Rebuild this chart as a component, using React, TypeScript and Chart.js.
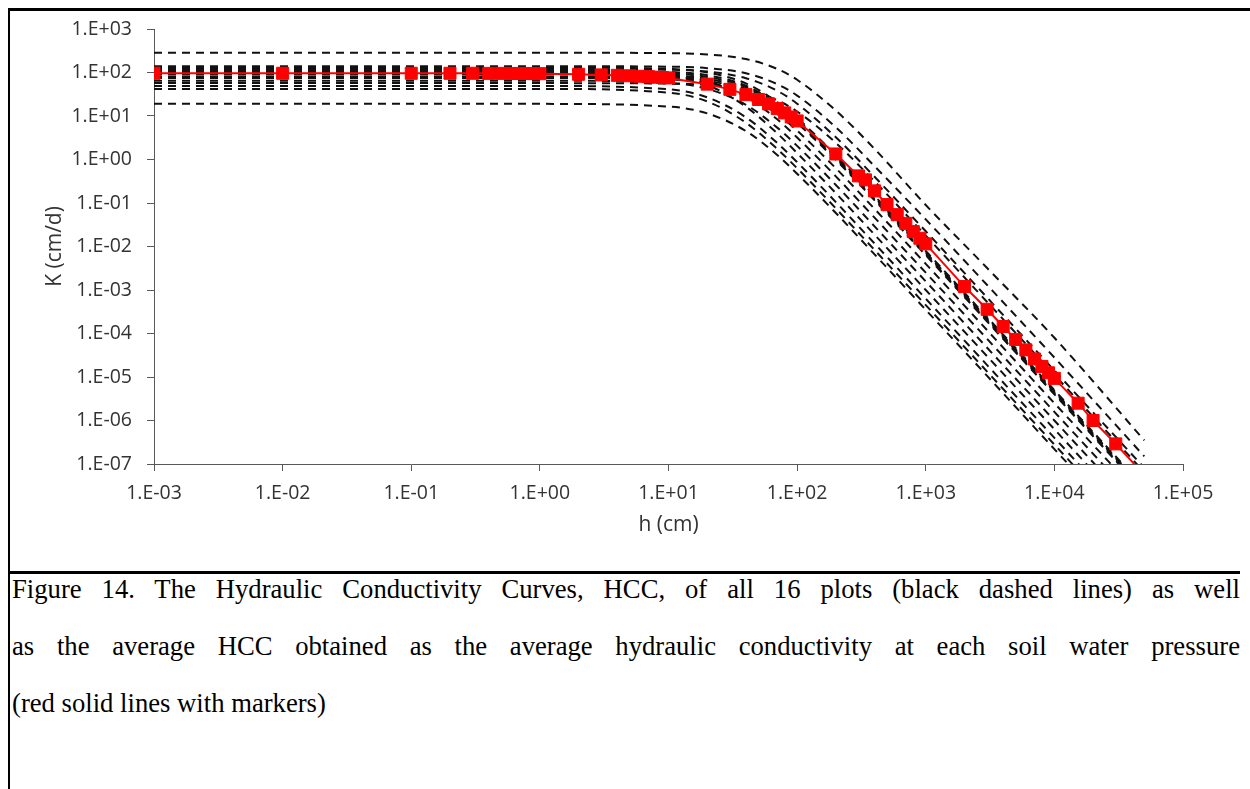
import React, { useEffect, useRef } from 'react';
import { Chart, registerables } from 'chart.js';

Chart.register(...registerables);

// Soil water pressure grid (cm) at which each plot's HCC is tabulated
const pressureGrid = [0.001, 1, 10, 20, 40, 70, 100, 200, 400, 1000, 3000, 10000, 50000];

// Hydraulic conductivity K (cm/d) of the 16 plots on pressureGrid
const plot01 = [285, 285, 279, 260, 204, 121, 68, 13.3, 1.75, 0.09, 3.2e-3, 8.0e-5, 3.5e-7];
const plot02 = [140, 140, 136, 126, 96, 54, 29.5, 5.5, 0.7, 0.042, 1.3e-3, 2.8e-5, 1.5e-7];
const plot03 = [120, 120, 116, 105, 74, 38, 19.2, 3.24, 0.4, 0.0224, 6.7e-4, 1.41e-5, 8.2e-8];
const plot04 = [57, 57, 55.6, 51.8, 40, 23, 12.7, 2.41, 0.313, 0.0178, 5.3e-4, 1.12e-5, 6.5e-8];
const plot05 = [130, 130, 121, 100, 56, 21, 9.0, 1.25, 0.146, 7.9e-3, 2.37e-4, 5.0e-6, 2.9e-8];
const plot06 = [110, 110, 103, 86.5, 49.5, 19.2, 8.3, 1.16, 0.136, 7.4e-3, 2.21e-4, 4.7e-6, 2.7e-8];
const plot07 = [100, 100, 94, 79, 46, 17.9, 7.8, 1.1, 0.129, 7.1e-3, 2.11e-4, 4.5e-6, 2.6e-8];
const plot08 = [90, 90, 84.7, 71.7, 41.9, 16.5, 7.2, 1.03, 0.121, 6.6e-3, 1.97e-4, 4.2e-6, 2.4e-8];
const plot09 = [80, 80, 75.6, 64.5, 38.7, 15.4, 6.8, 0.98, 0.115, 6.3e-3, 1.88e-4, 4.0e-6, 2.3e-8];
const plot10 = [75, 75, 69.5, 56.6, 30.5, 11.1, 4.6, 0.63, 0.073, 4.0e-3, 1.19e-4, 2.5e-6, 1.5e-8];
const plot11 = [95, 95, 84.7, 62.8, 27.6, 8.4, 3.2, 0.41, 0.046, 2.5e-3, 7.5e-5, 1.58e-6, 9.1e-9];
const plot12 = [65, 65, 57.6, 42.1, 18.1, 5.4, 2.06, 0.26, 0.029, 1.58e-3, 4.7e-5, 1.0e-6, 5.8e-9];
const plot13 = [105, 105, 85, 52, 16.3, 4.0, 1.41, 0.168, 0.0187, 1.0e-3, 3.0e-5, 6.3e-7, 3.6e-9];
const plot14 = [49, 49, 41.1, 26.8, 9.3, 2.4, 0.87, 0.105, 0.0117, 6.3e-4, 1.88e-5, 4.0e-7, 2.3e-9];
const plot15 = [42, 42, 34.4, 21.6, 7.0, 1.75, 0.63, 0.075, 8.3e-3, 4.5e-4, 1.33e-5, 2.8e-7, 1.6e-9];
const plot16 = [19, 19, 16.5, 11.5, 4.5, 1.27, 0.47, 0.059, 6.6e-3, 3.5e-4, 1.06e-5, 2.2e-7, 1.3e-9];

const plotCurves = [
  plot01, plot02, plot03, plot04, plot05, plot06, plot07, plot08,
  plot09, plot10, plot11, plot12, plot13, plot14, plot15, plot16,
];

// Average HCC: pressures (cm) and mean conductivity (cm/d)
const avgPressure = [
  0.001, 0.01, 0.1, 0.2, 0.3, 0.4, 0.5, 0.6, 0.7, 0.8, 0.9, 1,
  2, 3, 4, 5, 6, 7, 8, 9, 10,
  20, 30, 40, 50, 60, 70, 80, 90, 100,
  200, 300, 340, 400, 500, 600, 700, 800, 900, 1000,
  2000, 3000, 4000, 5000, 6000, 7000, 8000, 9000, 10000,
  15300, 20000, 30000, 50000,
];
const avgConductivity = [
  96, 96, 96, 96, 96, 95.5, 95.5, 95, 95, 95, 94.5, 94,
  91, 88, 86, 84, 82, 80, 78, 76.5, 75,
  54, 41, 31, 24, 19, 14.8, 11.8, 9.5, 7.7,
  1.34, 0.42, 0.34, 0.19, 0.092, 0.054, 0.034, 0.022, 0.0155, 0.0115,
  1.2e-3, 3.6e-4, 1.45e-4, 7.3e-5, 4.2e-5, 2.6e-5, 1.75e-5, 1.25e-5, 9.3e-6,
  2.5e-6, 1.0e-6, 2.9e-7, 5.6e-8,
];

const xTickValues = [1e-3, 1e-2, 1e-1, 1e0, 1e1, 1e2, 1e3, 1e4, 1e5];
const xTickLabels = ['1.E-03', '1.E-02', '1.E-01', '1.E+00', '1.E+01', '1.E+02', '1.E+03', '1.E+04', '1.E+05'];
const yTickValues = [1e-7, 1e-6, 1e-5, 1e-4, 1e-3, 1e-2, 1e-1, 1e0, 1e1, 1e2, 1e3];
const yTickLabels = ['1.E-07', '1.E-06', '1.E-05', '1.E-04', '1.E-03', '1.E-02', '1.E-01', '1.E+00', '1.E+01', '1.E+02', '1.E+03'];

const xAxisTitle = 'h (cm)';
const yAxisTitle = 'K (cm/d)';

const captionLines = [
  'Figure 14. The Hydraulic Conductivity Curves, HCC, of all 16 plots (black dashed lines) as well',
  'as the average HCC obtained as the average hydraulic conductivity at each soil water pressure',
  '(red solid lines with markers)',
];

const AXIS_COLOR = '#595959';
const TEXT_COLOR = '#333333';
const TICK_FONT = { family: '"Open Sans", sans-serif', size: 19.5 };
const TITLE_FONT = { family: '"Open Sans", sans-serif', size: 21 };

function HccChart() {
  const canvasRef = useRef<HTMLCanvasElement | null>(null);

  useEffect(() => {
    const canvas = canvasRef.current;
    if (!canvas) return;

    const dashedSets = plotCurves.map((curve, i) => ({
      label: `Plot ${i + 1}`,
      data: pressureGrid.map((h, j) => ({ x: h, y: curve[j] })),
      borderColor: '#111111',
      borderWidth: 2,
      borderDash: [8, 6],
      pointRadius: 0,
      fill: false,
      cubicInterpolationMode: 'monotone' as const,
    }));

    const averageSet = {
      label: 'Average',
      data: avgPressure.map((h, j) => ({ x: h, y: avgConductivity[j] })),
      borderColor: '#ff0000',
      backgroundColor: '#ff0000',
      borderWidth: 2,
      pointStyle: 'rect' as const,
      pointRadius: avgPressure.map((_, j) => (j === avgPressure.length - 1 ? 0 : 8.5)),
      pointHoverRadius: 0,
      pointBorderWidth: 1,
      pointBorderColor: '#ff0000',
      pointBackgroundColor: '#ff0000',
      tension: 0,
      fill: false,
    };

    const chart = new Chart(canvas, {
      type: 'line',
      data: { datasets: [averageSet, ...dashedSets] as any },
      options: {
        animation: false,
        responsive: false,
        devicePixelRatio: 1,
        layout: { padding: { left: 0, top: 18, right: 67, bottom: 27 } },
        plugins: { legend: { display: false }, tooltip: { enabled: false } },
        scales: {
          x: {
            type: 'logarithmic',
            min: 1e-3,
            max: 1e5,
            afterBuildTicks: (scale: any) => {
              scale.ticks = xTickValues.map((v) => ({ value: v }));
            },
            afterFit: (scale: any) => {
              scale.height = 80;
              scale.paddingLeft = 0;
              scale.paddingRight = 0;
            },
            ticks: {
              autoSkip: false,
              maxRotation: 0,
              padding: 11,
              color: TEXT_COLOR,
              font: TICK_FONT,
              callback: (_v: any, index: number) => xTickLabels[index],
            },
            grid: {
              display: true,
              drawOnChartArea: false,
              drawTicks: true,
              tickLength: 7,
              color: AXIS_COLOR,
              lineWidth: 1,
            },
            border: { display: true, color: AXIS_COLOR, width: 1 },
            title: {
              display: true,
              text: xAxisTitle,
              color: TEXT_COLOR,
              font: TITLE_FONT,
              padding: { top: 0, bottom: 6 },
            },
          },
          y: {
            type: 'logarithmic',
            min: 1e-7,
            max: 1e3,
            afterBuildTicks: (scale: any) => {
              scale.ticks = yTickValues.map((v) => ({ value: v }));
            },
            afterFit: (scale: any) => {
              scale.width = 144;
              scale.paddingTop = 0;
              scale.paddingBottom = 0;
            },
            ticks: {
              autoSkip: false,
              padding: 15,
              color: TEXT_COLOR,
              font: TICK_FONT,
              callback: (_v: any, index: number) => yTickLabels[index],
            },
            grid: {
              display: true,
              drawOnChartArea: false,
              drawTicks: true,
              tickLength: 7,
              color: AXIS_COLOR,
              lineWidth: 1,
            },
            border: { display: true, color: AXIS_COLOR, width: 1 },
            title: {
              display: true,
              text: yAxisTitle,
              color: TEXT_COLOR,
              font: TITLE_FONT,
              padding: { top: 32, bottom: 0 },
            },
          },
        },
      } as any,
    });

    return () => chart.destroy();
  }, []);

  return <canvas ref={canvasRef} width={1240} height={560} style={{ display: 'block' }} />;
}

export default function App() {
  return (
    <div
      style={{
        position: 'fixed',
        left: 8,
        top: 8,
        width: 1242,
        height: 781,
        borderTop: '3px solid #000',
        borderLeft: '2px solid #000',
        boxSizing: 'border-box',
        background: '#fff',
      }}
    >
      <div style={{ height: 560 }}>
        <HccChart />
      </div>
      <div
        style={{
          borderTop: '3px solid #000',
          paddingLeft: 2,
          width: 1228,
          fontFamily: '"Liberation Serif", "Times New Roman", serif',
          fontSize: 26.67,
          color: '#000',
        }}
      >
        {captionLines.map((line, i) => (
          <div
            key={i}
            style={{
              height: 57,
              lineHeight: '30px',
              whiteSpace: 'nowrap',
              textAlign: 'justify',
              textAlignLast: i < captionLines.length - 1 ? 'justify' : 'left',
            }}
          >
            {line}
          </div>
        ))}
      </div>
    </div>
  );
}
